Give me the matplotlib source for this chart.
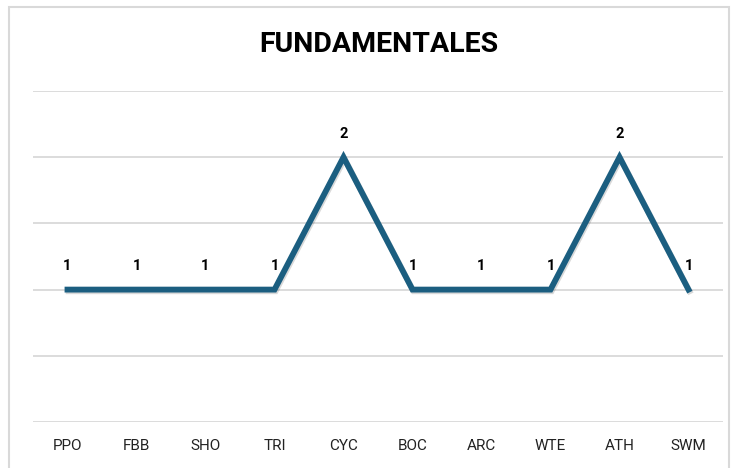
import matplotlib
matplotlib.use("Agg")
import matplotlib.pyplot as plt
from matplotlib.patches import Rectangle
import matplotlib.patheffects as pe

categories = ["PPO", "FBB", "SHO", "TRI", "CYC", "BOC", "ARC", "WTE", "ATH", "SWM"]
values = [1, 1, 1, 1, 2, 1, 1, 1, 2, 1]
title = "FUNDAMENTALES"

W, H = 732, 468
fig = plt.figure(figsize=(W/100, H/100), dpi=100)
fig.patch.set_facecolor("white")
fig.patches.append(Rectangle((9/W, -0.05), (729-9)/W, (H-7)/H + 0.05, transform=fig.transFigure,
                             fill=False, edgecolor="#d9d9d9", linewidth=1.5))

ax = fig.add_axes([33/W, 1-422/H, (723-33)/W, (422-91)/H])
x = list(range(len(categories)))
ax.plot(x, values, color="#1b5e80", linewidth=4.2, solid_joinstyle="miter",
        path_effects=[pe.SimpleLineShadow(offset=(0.8, -1.2), alpha=0.15, shadow_color="black"), pe.Normal()])
ax.set_xlim(-0.5, len(categories)-0.5)
ax.set_ylim(0, 2.5)
ax.set_yticks([0, 0.5, 1, 1.5, 2, 2.5])
ax.grid(axis="y", color="#d9d9d9", linewidth=1.3)
ax.set_axisbelow(True)
for s in ax.spines.values():
    s.set_visible(False)
ax.tick_params(axis="y", left=False, labelleft=False)
ax.tick_params(axis="x", bottom=False, pad=9)
ax.set_xticks(x)
ax.set_xticklabels(categories, fontsize=11, family="Roboto", color="#222222")

for xi, v in zip(x, values):
    ax.annotate(str(v), (xi, v), xytext=(0, 17), textcoords="offset points",
                ha="center", va="center", fontsize=10.5, fontweight="bold", family="Roboto")

fig.text(379/W, 1-45/H, title, ha="center", va="center", fontsize=20.5, fontweight="bold", family="Roboto")

fig.savefig("out.png", dpi=100)
